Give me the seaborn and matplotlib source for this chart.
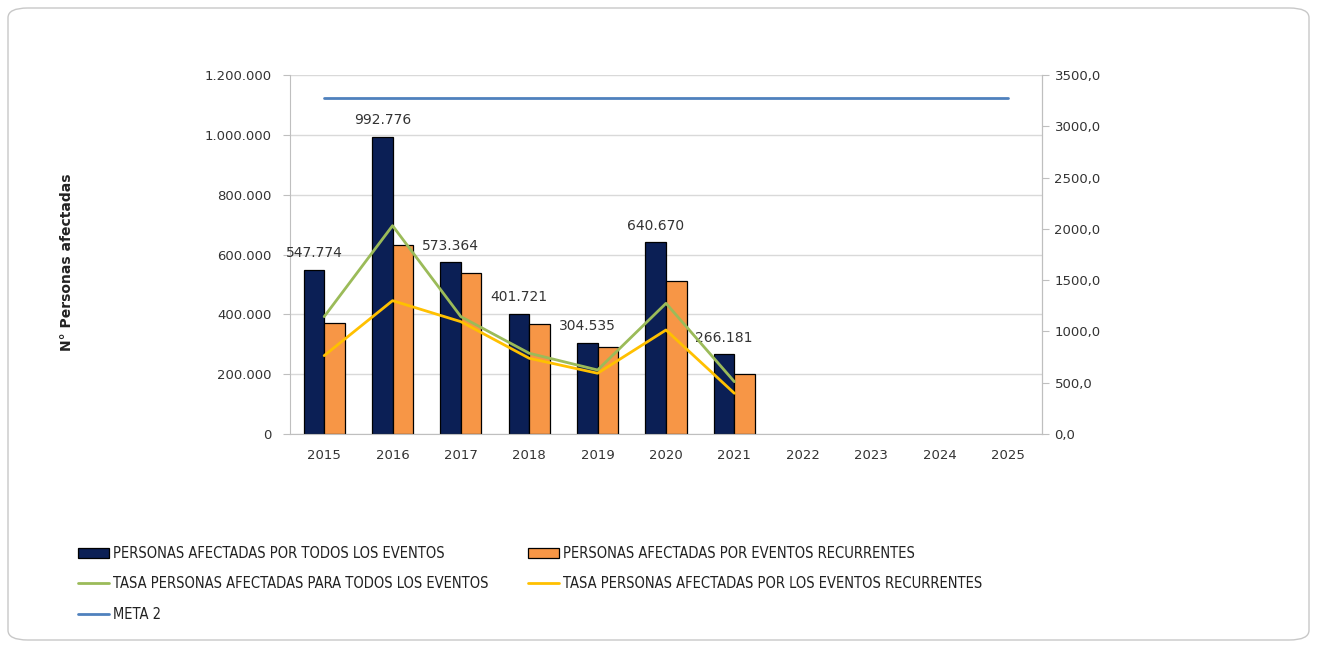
import numpy as np
import pandas as pd
import matplotlib
matplotlib.use("Agg")
import matplotlib.pyplot as plt
from matplotlib.patches import Rectangle, FancyBboxPatch
from matplotlib.lines import Line2D
import matplotlib.ticker as mticker
import seaborn as sns

# ---------------- data ----------------
years = ["2015", "2016", "2017", "2018", "2019", "2020", "2021", "2022", "2023", "2024", "2025"]
data_years = ["2015", "2016", "2017", "2018", "2019", "2020", "2021"]
afectadas_todos = [547774, 992776, 573364, 401721, 304535, 640670, 266181]
afectadas_recurrentes = [370000, 632000, 539000, 368000, 292000, 511000, 200000]
tasa_todos = [1144, 2031, 1144, 787, 624, 1274, 510]
tasa_recurrentes = [764, 1300, 1095, 738, 592, 1014, 397]
meta2 = [3280] * len(years)

lbl_todos = "PERSONAS AFECTADAS POR TODOS LOS EVENTOS"
lbl_rec = "PERSONAS AFECTADAS POR EVENTOS RECURRENTES"
lbl_tasa_todos = "TASA PERSONAS AFECTADAS PARA TODOS LOS EVENTOS"
lbl_tasa_rec = "TASA PERSONAS AFECTADAS POR LOS EVENTOS RECURRENTES"
lbl_meta = "META 2"

c_navy = "#0B1F55"
c_orange = "#F79646"
c_green = "#9BBB59"
c_yellow = "#FFC000"
c_blue = "#4F81BD"

sns.set_style("white")
plt.rcParams["font.family"] = ["DejaVu Sans"]

fig = plt.figure(figsize=(13.17, 6.48), dpi=100)
ax = fig.add_axes([290 / 1317, 1 - 434 / 648, (1042 - 290) / 1317, (434 - 75) / 648])

bars_df = pd.DataFrame({
    "year": data_years * 2,
    "value": afectadas_todos + afectadas_recurrentes,
    "serie": [lbl_todos] * len(data_years) + [lbl_rec] * len(data_years),
})
sns.barplot(data=bars_df, x="year", y="value", hue="serie", order=years,
            hue_order=[lbl_todos, lbl_rec], palette=[c_navy, c_orange],
            width=0.6, edgecolor="black", linewidth=0.9, ax=ax, legend=False,
            errorbar=None, saturation=1)

ax.set_ylim(0, 1200000)
ax.set_xlim(-0.5, len(years) - 0.5)
ax.yaxis.set_major_locator(mticker.MultipleLocator(200000))
ax.yaxis.set_major_formatter(mticker.FuncFormatter(lambda v, p: f"{int(v):,}".replace(",", ".")))
ax.set_xlabel("")
ax.set_ylabel("")
ax.grid(axis="y", color="#D9D9D9", linewidth=1)
ax.set_axisbelow(True)
ax.spines["top"].set_visible(False)
for s in ["left", "bottom", "right"]:
    ax.spines[s].set_color("#BFBFBF")
ax.tick_params(axis="y", which="both", left=True, length=5, color="#BFBFBF",
               labelsize=9.5, labelcolor="#333333", pad=8)
ax.tick_params(axis="x", bottom=False, labelsize=9.5, labelcolor="#333333", pad=7)

# data labels above navy bars
navy_bars = ax.containers[0]
for rect, v in zip(navy_bars, afectadas_todos):
    ax.annotate(f"{v:,}".replace(",", "."), (rect.get_x() + rect.get_width() / 2, rect.get_height()),
                xytext=(0, 7), textcoords="offset points", ha="center", va="bottom",
                fontsize=10, color="#333333")

# secondary axis
ax2 = ax.twinx()
pos = {y: i for i, y in enumerate(years)}
lines_df = pd.DataFrame({
    "x": [pos[y] for y in data_years] * 2,
    "v": tasa_todos + tasa_recurrentes,
    "serie": [lbl_tasa_todos] * len(data_years) + [lbl_tasa_rec] * len(data_years),
})
sns.lineplot(data=lines_df, x="x", y="v", hue="serie", palette=[c_green, c_yellow],
             hue_order=[lbl_tasa_todos, lbl_tasa_rec], linewidth=2, ax=ax2, legend=False)
meta_df = pd.DataFrame({"x": [pos[y] for y in years], "v": meta2})
sns.lineplot(data=meta_df, x="x", y="v", color=c_blue, linewidth=2, ax=ax2)

ax2.set_ylim(0, 3500)
ax2.set_xlim(-0.5, len(years) - 0.5)
ax2.yaxis.set_major_locator(mticker.MultipleLocator(500))
ax2.yaxis.set_major_formatter(mticker.FuncFormatter(lambda v, p: f"{v:.1f}".replace(".", ",")))
ax2.set_ylabel("")
ax2.set_xlabel("")
ax2.grid(False)
for s in ["top", "left", "bottom"]:
    ax2.spines[s].set_visible(False)
ax2.spines["right"].set_color("#BFBFBF")
ax2.tick_params(axis="y", right=True, length=5, color="#BFBFBF", labelsize=9.5,
                labelcolor="#333333", pad=4)

fig.text(67 / 1317, 1 - 262 / 648, "N° Personas afectadas", rotation=90, ha="center",
         va="center", fontsize=10, fontweight="bold", color="#222222")

# legend
handles = [
    Rectangle((0, 0), 1, 1, facecolor=c_navy, edgecolor="black", linewidth=0.9),
    Line2D([], [], color=c_green, linewidth=2),
    Line2D([], [], color=c_blue, linewidth=2),
    Rectangle((0, 0), 1, 1, facecolor=c_orange, edgecolor="black", linewidth=0.9),
    Line2D([], [], color=c_yellow, linewidth=2),
]
labels = [lbl_todos, lbl_tasa_todos, lbl_meta, lbl_rec, lbl_tasa_rec]
fig.legend(handles, labels, ncol=2, loc="upper left",
           bbox_to_anchor=(65 / 1317, 1 - 533 / 648), frameon=False,
           prop={"family": ["DejaVu Sans"], "size": 10.5, "stretch": "condensed"},
           handlelength=2.1, handleheight=0.75, handletextpad=0.3,
           labelspacing=1.05, columnspacing=2.7, labelcolor="#222222")

# rounded border
fig.patches.append(FancyBboxPatch((8 / 1317, 8 / 648), 1 - 16 / 1317, 1 - 16 / 648,
                                  boxstyle="round,pad=0,rounding_size=0.015",
                                  transform=fig.transFigure, facecolor="none",
                                  edgecolor="#C8C8C8", linewidth=1))

fig.savefig("out.png", dpi=100)
